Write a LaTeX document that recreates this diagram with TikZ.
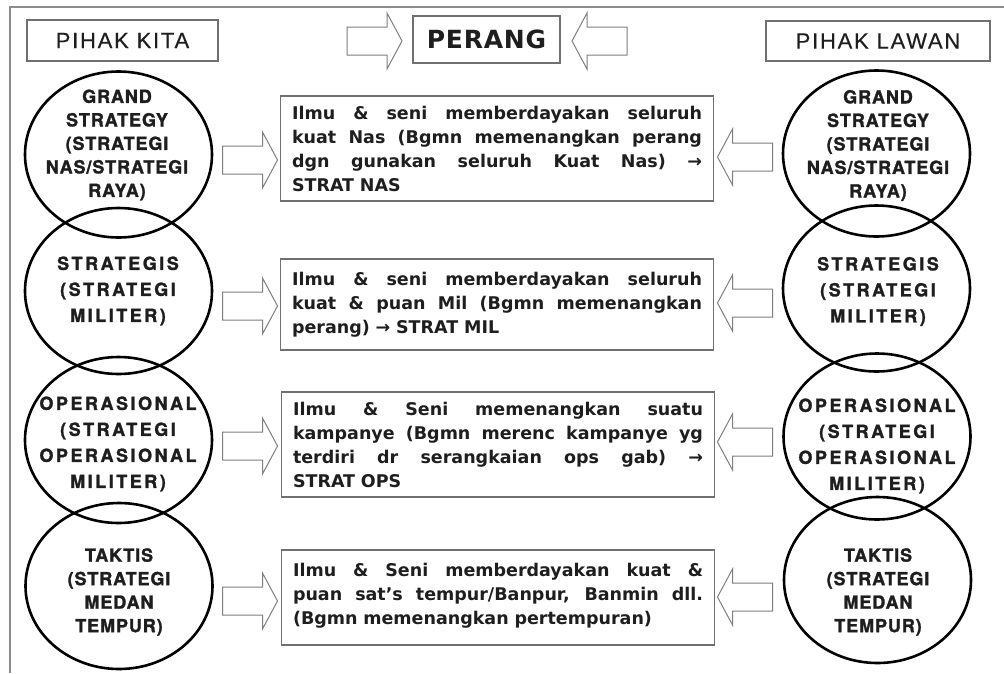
\documentclass[tikz,border=0pt]{standalone}
\usepackage{fontspec}
\usetikzlibrary{shapes.geometric}
\setmainfont{Liberation Sans}
% type faces
\newfontfamily\ringA{TeX Gyre Heros}[LetterSpace=5,FakeBold=1.4]
\newfontfamily\ringB{TeX Gyre Heros}[LetterSpace=14,FakeBold=1.4]
\newfontfamily\hdrfont{Liberation Sans}[LetterSpace=8,FakeBold=0.4]
\newfontfamily\warfont{DejaVu Sans Bold}[LetterSpace=3]
\newfontfamily\boxfont{DejaVu Sans Bold}
\definecolor{framegray}{HTML}{8C8C8C}
\definecolor{boxgray}{HTML}{707070}
\definecolor{arrowgray}{HTML}{7F7F7F}
\definecolor{textdark}{HTML}{1E1E1E}
% one justified line of a description box
\newcommand{\jl}[1]{\leavevmode\hbox to 410pt{\spaceskip=.32em plus 1fil\relax #1}}
\begin{document}
\begin{tikzpicture}[x=1pt,y=-1pt,
  frame/.style={draw=framegray,line width=1.5pt},
  hdrbox/.style={draw=boxgray,line width=1.2pt,rectangle,inner sep=0pt,text=textdark},
  levelring/.style={draw=black,line width=2.6pt,ellipse,inner sep=0pt,
    minimum width=187pt,minimum height=166pt},
  ringtext/.style={align=center,inner sep=0pt,text=textdark},
  ringa/.style={ringtext,font=\ringA\bfseries\fontsize{18}{23.5}\selectfont},
  ringb/.style={ringtext,font=\ringB\bfseries\fontsize{18}{26}\selectfont},
  descbox/.style={draw=boxgray,line width=1.2pt,rectangle,minimum width=433pt,
    inner xsep=11.5pt,inner ysep=0pt,text width=410pt,align=left,text=textdark,
    font=\boxfont\fontsize{17.5}{24}\selectfont},
  blockarrow/.pic={\draw[draw=arrowgray,line width=1pt,fill=white]
    (-27.5,-14) -- (12.5,-14) -- (12.5,-28) -- (27.5,0) -- (12.5,28)
    -- (12.5,14) -- (-27.5,14) -- cycle;}
]
\useasboundingbox (0,0) rectangle (1004,673);
\fill[white] (0,0) rectangle (1004,673);

% open frame along the top and left
\draw[frame] (10,673) -- (10,7) -- (1004,7);

% heading row
\node[hdrbox,minimum width=191pt,minimum height=41pt,
  font=\hdrfont\fontsize{22}{26}\selectfont] (kita) at (122.5,40.5) {PIHAK KITA};
\node[hdrbox,minimum width=147pt,minimum height=47pt,
  font=\warfont\fontsize{25}{28}\selectfont] (perang) at (486.5,39.5) {PERANG};
\node[hdrbox,minimum width=224pt,minimum height=40pt,
  font=\hdrfont\fontsize{22}{26}\selectfont] (lawan) at (878,41) {PIHAK LAWAN};
\pic at (374.5,41) {blockarrow};
\pic[xscale=-1] at (599.5,41) {blockarrow};

% levels of our own side
\node[levelring] (k1) at (118.5,154.5) {};
\node[levelring] (k2) at (118.5,291) {};
\node[levelring] (k3) at (118.5,440) {};
\node[levelring] (k4) at (119,586) {};
\node[ringa] (k1t) at (117,145) {GRAND\\STRATEGY\\(STRATEGI\\NAS/STRATEGI\\RAYA)};
\node[ringb] (k2t) at (118,291) {STRATEGIS\\(STRATEGI\\MILITER)};
\node[ringb] (k3t) at (118,444) {OPERASIONAL\\(STRATEGI\\OPERASIONAL\\MILITER)};
\node[ringa] (k4t) at (119,592) {TAKTIS\\(STRATEGI\\MEDAN\\TEMPUR)};

% levels of the opposing side
\node[levelring] (w1) at (876.5,153.5) {};
\node[levelring] (w2) at (876.5,288.5) {};
\node[levelring] (w3) at (877,436.5) {};
\node[levelring] (w4) at (877.5,580) {};
\node[ringa] (w1t) at (878,145.5) {GRAND\\STRATEGY\\(STRATEGI\\NAS/STRATEGI\\RAYA)};
\node[ringb] (w2t) at (878,291.5) {STRATEGIS\\(STRATEGI\\MILITER)};
\node[ringb] (w3t) at (877,446) {OPERASIONAL\\(STRATEGI\\OPERASIONAL\\MILITER)};
\node[ringa] (w4t) at (878,592) {TAKTIS\\(STRATEGI\\MEDAN\\TEMPUR)};

% descriptions
\node[descbox,minimum height=105pt] (d1) at (497,148.5) {%
\jl{Ilmu \& seni memberdayakan seluruh}\\
\jl{kuat Nas (Bgmn memenangkan perang}\\
\jl{dgn gunakan seluruh Kuat Nas) →}\\
STRAT NAS};
\node[descbox,minimum height=91pt] (d2) at (497,304.5) {%
\jl{Ilmu \& seni memberdayakan seluruh}\\
\jl{kuat \& puan Mil (Bgmn memenangkan}\\
perang) → STRAT MIL};
\node[descbox,minimum height=105pt] (d3) at (498,444.5) {%
\jl{Ilmu \& Seni memenangkan suatu}\\
\jl{kampanye (Bgmn merenc kampanye yg}\\
\jl{terdiri dr serangkaian ops gab) →}\\
STRAT OPS};
\node[descbox,minimum height=95pt] (d4) at (498,597.5) {%
\jl{Ilmu \& Seni memberdayakan kuat \&}\\
\jl{puan sat’s tempur/Banpur, Banmin dll.}\\
(Bgmn memenangkan pertempuran)\\[-16pt]
\mbox{}};

% block arrows pointing into the descriptions
\pic at (250,160) {blockarrow};
\pic at (250,306) {blockarrow};
\pic at (250,446) {blockarrow};
\pic at (250,601) {blockarrow};
\pic[xscale=-1] at (745,157) {blockarrow};
\pic[xscale=-1] at (745,303) {blockarrow};
\pic[xscale=-1] at (745,442) {blockarrow};
\pic[xscale=-1] at (745,597) {blockarrow};
\end{tikzpicture}
\end{document}
